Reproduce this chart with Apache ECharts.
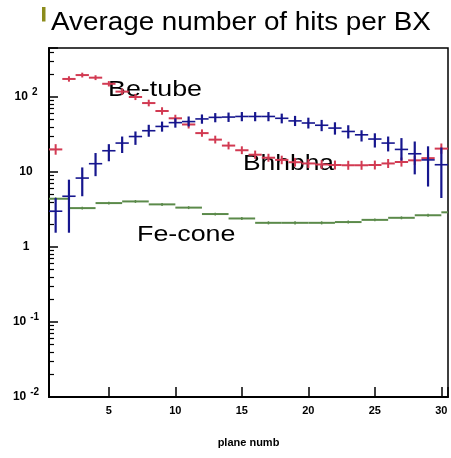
<!DOCTYPE html>
<html>
<head>
<meta charset="utf-8">
<script src="https://cdn.jsdelivr.net/npm/echarts@6/dist/echarts.min.js"></script>
<style>
  html, body { margin: 0; padding: 0; background: #fff; }
  #main { width: 451px; height: 458px; }
</style>
</head>
<body>
<div id="main"></div>
<script>
// plane numbers (bin centres)
var planes = [1, 2, 3, 4, 5, 6, 7, 8, 9, 10, 11, 12, 13, 14, 15,
              16, 17, 18, 19, 20, 21, 22, 23, 24, 25, 26, 27, 28, 29, 30];
var planeLabels = planes.map(String);

// Be-tube (red)
var beTube     = [20, 174, 196, 181, 150, 118, 100, 83, 65, 52, 43, 33, 27, 22.5, 19.5,
                  17, 15.5, 14.5, 13.5, 13, 12.6, 12.4, 12.3, 12.3, 12.4, 13, 13.6, 14.3, 15.3, 20.5];
var beTubeLow  = [17, 160, 182, 168, 138, 107, 91, 75, 58, 46.5, 38, 29.5, 24, 20, 17.3,
                  15, 13.7, 12.7, 11.8, 11.3, 11, 10.8, 10.7, 10.7, 10.8, 11.3, 11.8, 12.4, 13.3, 17.5];
var beTubeHigh = [23.5, 189, 211, 195, 163, 130, 110, 92, 73, 58, 48.5, 37, 30.5, 25.3, 22,
                  19.3, 17.5, 16.5, 15.4, 14.9, 14.4, 14.2, 14.1, 14.1, 14.2, 14.9, 15.6, 16.4, 17.5, 24];

// Bhabha (blue)
var bhabha     = [3.0, 4.75, 8.3, 12.9, 19.2, 24.3, 29.7, 35.5, 40.5, 45.5, 47, 51, 53.5, 54, 55,
                  55, 55, 52, 48, 45, 42, 38.5, 34.7, 31.3, 27.5, 24.3, 20, 17.5, 14.5, 12.5];
var bhabhaLow  = [1.55, 1.55, 4.75, 8.8, 13.9, 17.9, 23, 29.5, 34.5, 39, 40.5, 44, 46, 46.5, 47.5,
                  47.5, 47.5, 44.5, 41, 38, 35, 31.5, 28, 25.5, 21.2, 18.8, 14.2, 9.3, 6.4, 4.5];
var bhabhaHigh = [4.5, 7.9, 11.5, 17.9, 23.5, 29.7, 34.7, 42.6, 47, 52, 55, 58.5, 61, 62, 63,
                  63, 63, 60, 56, 53, 49.5, 46, 42, 36, 32.8, 29.7, 28.3, 25.5, 22, 21.2];

// Fe-cone (green), bins two planes wide
var fePlanes = [1, 3, 5, 7, 9, 11, 13, 15, 17, 19, 21, 23, 25, 27, 29, 31];
var feCone     = [4.4, 3.3, 3.85, 4.05, 3.7, 3.35, 2.75, 2.4, 2.1, 2.1, 2.1, 2.15, 2.3, 2.45, 2.65, 2.9];
var feConeLow  = [4.2, 3.15, 3.68, 3.87, 3.53, 3.2, 2.63, 2.29, 2.0, 2.0, 2.0, 2.05, 2.2, 2.34, 2.53, 2.77];
var feConeHigh = [4.6, 3.45, 4.02, 4.23, 3.87, 3.5, 2.87, 2.51, 2.2, 2.2, 2.2, 2.25, 2.4, 2.56, 2.77, 3.03];

function toItems(xs, vals, lows, highs) {
  return xs.map(function (x, i) { return [x, vals[i], lows[i], highs[i]]; });
}

// histogram point with error bar: horizontal = bin width, vertical = error
function errCross(halfWidth, hWidth, vWidth) {
  return function (params, api) {
    var x = api.value(0), y = api.value(1);
    var c = api.coord([x, y]);
    var l = api.coord([x - halfWidth, y]);
    var r = api.coord([x + halfWidth, y]);
    var t = api.coord([x, api.value(3)]);
    var b = api.coord([x, api.value(2)]);
    var color = api.visual('color');
    return {
      type: 'group',
      children: [
        { type: 'line', shape: { x1: l[0], y1: c[1], x2: r[0], y2: c[1] },
          style: { stroke: color, lineWidth: hWidth } },
        { type: 'line', shape: { x1: c[0], y1: t[1], x2: c[0], y2: b[1] },
          style: { stroke: color, lineWidth: vWidth } }
      ]
    };
  };
}

var font = 'Liberation Sans';
var chart = echarts.init(document.getElementById('main'));

var option = {
  animation: false,
  backgroundColor: '#fff',
  grid: { left: 49, right: 3, top: 48, bottom: 61, show: true,
          borderColor: '#000', borderWidth: 1.5 },
  graphic: [
    { type: 'rect', shape: { x: 42, y: 7, width: 3.5, height: 14.5 }, style: { fill: '#8c8c1c' } },
    { type: 'text', x: 51, y: 23, scaleX: 1.07,
      style: { text: 'Average number of hits per BX', font: '26px "Liberation Sans"',
               fill: '#000', verticalAlign: 'middle' } },
    { type: 'text', x: 108, y: 89.5, scaleX: 1.22,
      style: { text: 'Be-tube', font: '22px "Liberation Sans"', fill: '#000', verticalAlign: 'middle' } },
    { type: 'text', x: 243, y: 163.5, scaleX: 1.2,
      style: { text: 'Bhhbha', font: '22px "Liberation Sans"', fill: '#000', verticalAlign: 'middle' } },
    { type: 'text', x: 137, y: 234.5, scaleX: 1.22,
      style: { text: 'Fe-cone', font: '22px "Liberation Sans"', fill: '#000', verticalAlign: 'middle' } }
  ],
  xAxis: [
    {
      type: 'value', min: 0.5, max: 30.5, splitNumber: 6,
      name: 'plane numb', nameLocation: 'middle', nameGap: 40,
      nameTextStyle: { fontFamily: font, fontSize: 11, fontWeight: 'bold', color: '#000' },
      axisLine: { lineStyle: { color: '#000', width: 2 } },
      axisTick: { inside: true, length: 10, lineStyle: { color: '#000', width: 1.5 } },
      axisLabel: {
        margin: 8, fontFamily: font, fontSize: 11, fontWeight: 'bold', color: '#000',
        formatter: function (v) { return (v > 0 && v % 5 === 0) ? String(v) : ''; }
      },
      splitLine: { show: false }
    },
    {
      type: 'category', data: planeLabels, boundaryGap: true, position: 'bottom',
      axisLine: { show: false },
      axisTick: { inside: true, alignWithLabel: true, length: 5, lineStyle: { color: '#000', width: 1.5 } },
      axisLabel: { show: false },
      splitLine: { show: false }
    }
  ],
  yAxis: {
    type: 'log', logBase: 10, min: 0.01, max: 450,
    axisLine: { show: true, lineStyle: { color: '#000', width: 2 } },
    axisTick: { inside: true, length: 9, lineStyle: { color: '#000', width: 1.5 } },
    minorTick: { show: true, splitNumber: 9, length: 5, lineStyle: { color: '#000', width: 1.2 } },
    splitLine: { show: false },
    axisLabel: {
      align: 'center', margin: 23, color: '#000',
      fontFamily: font, fontSize: 12, fontWeight: 'bold',
      formatter: function (v) {
        var e = Math.log10(v), k = Math.round(e);
        if (Math.abs(e - k) > 1e-6) return '';
        if (k === 0) return '1';
        if (k === 1) return '10';
        return '10{sup|' + k + '}';
      },
      rich: { sup: { fontFamily: font, fontSize: 10, fontWeight: 'bold', color: '#000', padding: [0, 0, 10, 4] } }
    }
  },
  series: [
    { name: 'Fe-cone', type: 'custom', clip: true, xAxisIndex: 0, color: '#5b8a4a',
      renderItem: errCross(1, 2, 1.5), encode: { x: 0, y: 1 },
      data: toItems(fePlanes, feCone, feConeLow, feConeHigh) },
    { name: 'Be-tube', type: 'custom', clip: true, xAxisIndex: 0, color: '#d23a52',
      renderItem: errCross(0.5, 2, 2), encode: { x: 0, y: 1 },
      data: toItems(planes, beTube, beTubeLow, beTubeHigh) },
    { name: 'Bhabha', type: 'custom', clip: true, xAxisIndex: 0, color: '#16168e',
      renderItem: errCross(0.5, 1.6, 2.2), encode: { x: 0, y: 1 },
      data: toItems(planes, bhabha, bhabhaLow, bhabhaHigh) }
  ]
};
chart.setOption(option);
</script>
</body>
</html>
